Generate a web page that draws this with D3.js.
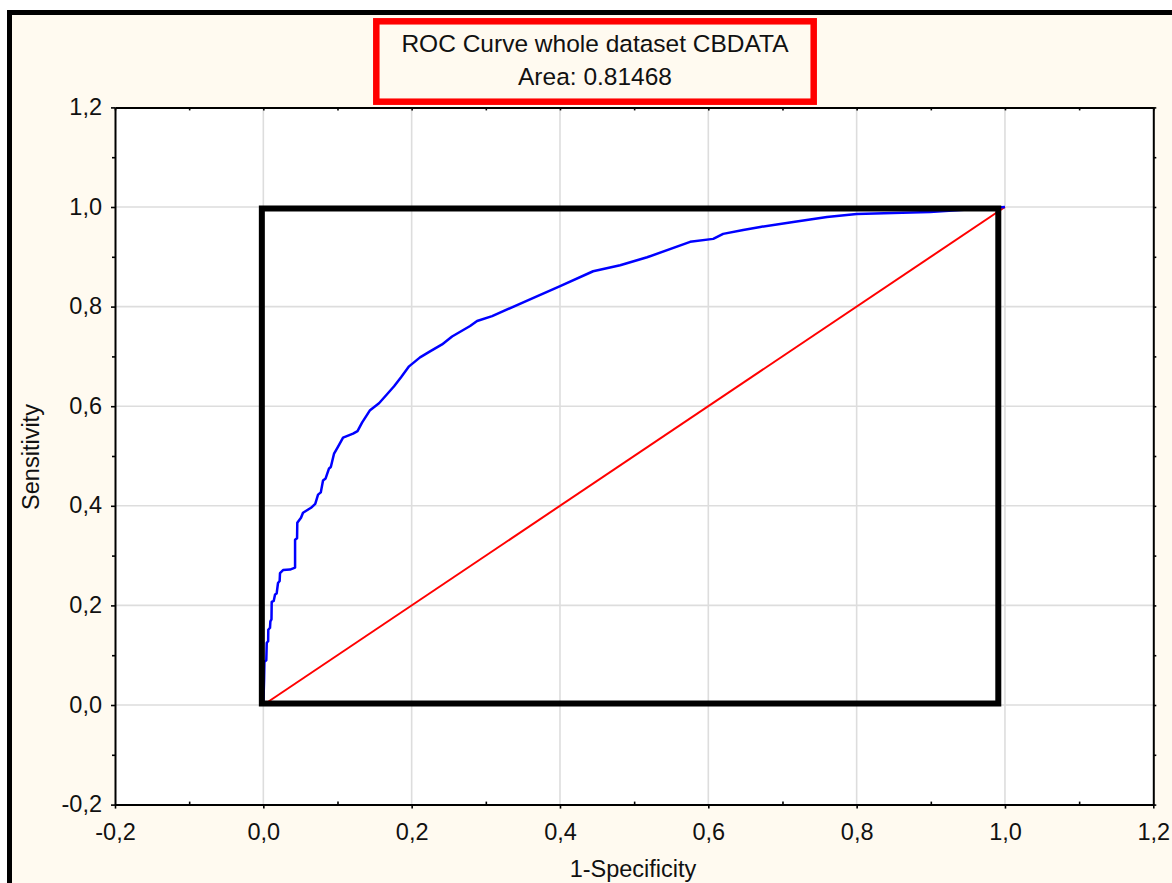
<!DOCTYPE html>
<html>
<head>
<meta charset="utf-8">
<script src="https://cdn.jsdelivr.net/npm/d3@7/dist/d3.min.js"></script>
<style>
  html, body { margin: 0; padding: 0; background: #ffffff; }
  svg { display: block; }
  text { font-family: "Liberation Sans", Arial, sans-serif; fill: #111; }
</style>
</head>
<body>
<svg id="chart" width="1172" height="883"></svg>
<script>
// ---- Data ----
const titleLines = ["ROC Curve whole dataset CBDATA", "Area: 0.81468"];
const xAxisLabel = "1-Specificity";
const yAxisLabel = "Sensitivity";

const majorTicks = [-0.2, 0.0, 0.2, 0.4, 0.6, 0.8, 1.0, 1.2];
const majorTickLabels = ["-0,2", "0,0", "0,2", "0,4", "0,6", "0,8", "1,0", "1,2"];
const minorTicks = [-0.1, 0.1, 0.3, 0.5, 0.7, 0.9, 1.1];

// ROC curve (1-specificity, sensitivity)
const rocFpr = [0, 0.001, 0.0015, 0.004, 0.0046, 0.0065, 0.0067, 0.009, 0.0095, 0.011,
  0.0113, 0.014, 0.0158, 0.018, 0.0198, 0.022, 0.0225, 0.0266, 0.036, 0.0428,
  0.0428, 0.0455, 0.0458, 0.0508, 0.0535, 0.0643, 0.070, 0.0738, 0.0775, 0.0805,
  0.084, 0.0886, 0.091, 0.0954, 0.1008, 0.1075, 0.121, 0.127, 0.1331, 0.1439,
  0.156, 0.1668, 0.1763, 0.1857, 0.1965, 0.2113, 0.2248, 0.241, 0.2545, 0.2788,
  0.2882, 0.3085, 0.3665, 0.4002, 0.4447, 0.4811, 0.5175, 0.5755, 0.6066, 0.620,
  0.647, 0.670, 0.7145, 0.760, 0.800, 0.849, 0.899, 0.950, 1.0];
const rocTpr = [0, 0.05, 0.087, 0.090, 0.125, 0.128, 0.151, 0.155, 0.168, 0.172,
  0.207, 0.209, 0.222, 0.224, 0.245, 0.249, 0.265, 0.271, 0.272, 0.276,
  0.332, 0.335, 0.366, 0.376, 0.386, 0.396, 0.404, 0.4225, 0.427, 0.451,
  0.455, 0.475, 0.478, 0.505, 0.519, 0.537, 0.545, 0.550, 0.567, 0.592,
  0.606, 0.624, 0.640, 0.658, 0.680, 0.698, 0.710, 0.724, 0.740, 0.761,
  0.771, 0.781, 0.819, 0.841, 0.871, 0.883, 0.899, 0.930, 0.936, 0.946,
  0.954, 0.960, 0.970, 0.980, 0.986, 0.988, 0.990, 0.995, 1.0];

// Reference (chance) line
const diagX = [0, 1];
const diagY = [0, 1];

// Highlight box drawn around the unit square (data units)
const boxX = [-0.002, 0.991];
const boxY = [0.003, 0.997];

// ---- Layout ----
const svg = d3.select("#chart");
const W = 1172, H = 883;
const plot = { left: 115, right: 1153.3, top: 107.4, bottom: 804.6 };

const x = d3.scaleLinear().domain([-0.2, 1.2]).range([plot.left, plot.right]);
const y = d3.scaleLinear().domain([-0.2, 1.2]).range([plot.bottom, plot.top]);

// Outer background (cream) and black frame on top/left
svg.append("rect").attr("x", 0).attr("y", 0).attr("width", W).attr("height", H).attr("fill", "#ffffff");
svg.append("rect").attr("x", 12).attr("y", 15).attr("width", W - 12).attr("height", H - 15).attr("fill", "#fffaf0");
svg.append("path")
  .attr("d", `M9.5,${H} L9.5,12.5 L${W},12.5`)
  .attr("fill", "none").attr("stroke", "#000").attr("stroke-width", 5);

// Plot area
svg.append("rect")
  .attr("x", plot.left).attr("y", plot.top)
  .attr("width", plot.right - plot.left).attr("height", plot.bottom - plot.top)
  .attr("fill", "#ffffff");

// Grid
const grid = svg.append("g");
grid.selectAll("line.gx").data(majorTicks.slice(1, -1)).join("line")
  .attr("x1", d => x(d)).attr("x2", d => x(d))
  .attr("y1", plot.top).attr("y2", plot.bottom)
  .attr("stroke", "#dddddd").attr("stroke-width", 1.6);
grid.selectAll("line.gy").data(majorTicks.slice(1, -1)).join("line")
  .attr("class", "gy")
  .attr("y1", d => y(d)).attr("y2", d => y(d))
  .attr("x1", plot.left).attr("x2", plot.right)
  .attr("stroke", "#dddddd").attr("stroke-width", 1.6);

// Diagonal reference line
svg.append("path")
  .datum(diagX.map((d, i) => [d, diagY[i]]))
  .attr("d", d3.line().x(d => x(d[0])).y(d => y(d[1])))
  .attr("fill", "none").attr("stroke", "#ff0000").attr("stroke-width", 2);

// ROC curve
svg.append("path")
  .datum(rocFpr.map((d, i) => [d, rocTpr[i]]))
  .attr("d", d3.line().x(d => x(d[0])).y(d => y(d[1])))
  .attr("fill", "none").attr("stroke", "#0000ff").attr("stroke-width", 2.5)
  .attr("stroke-linejoin", "round");

// Highlight box
svg.append("rect")
  .attr("x", x(boxX[0])).attr("y", y(boxY[1]))
  .attr("width", x(boxX[1]) - x(boxX[0]))
  .attr("height", y(boxY[0]) - y(boxY[1]))
  .attr("fill", "none").attr("stroke", "#000").attr("stroke-width", 6);

// Axes
const fmt = (d) => majorTickLabels[majorTicks.findIndex(t => Math.abs(t - d) < 1e-9)];
const fontSize = 23.5;

function styleAxis(g) {
  g.select(".domain").attr("stroke", "#000").attr("stroke-width", 2);
  g.selectAll(".tick line").attr("stroke", "#000").attr("stroke-width", 1.6);
  g.selectAll(".tick text").attr("font-size", fontSize).attr("fill", "#111")
    .attr("font-family", '"Liberation Sans", Arial, sans-serif');
}

const axB = svg.append("g").attr("transform", `translate(0,${plot.bottom})`)
  .call(d3.axisBottom(x).tickValues(majorTicks).tickFormat(fmt).tickSizeInner(4).tickSizeOuter(0).tickPadding(15));
styleAxis(axB);
axB.selectAll(".tick text").attr("y", 19.2).attr("dy", "0.71em");

const axL = svg.append("g").attr("transform", `translate(${plot.left},0)`)
  .call(d3.axisLeft(y).tickValues(majorTicks).tickFormat(fmt).tickSizeInner(4).tickSizeOuter(0).tickPadding(9));
styleAxis(axL);
axL.selectAll(".tick text").attr("x", -13).attr("dy", "0.3em");

const axT = svg.append("g").attr("transform", `translate(0,${plot.top})`)
  .call(d3.axisTop(x).tickValues(majorTicks).tickFormat("").tickSizeInner(-3).tickSizeOuter(0));
styleAxis(axT);
const axR = svg.append("g").attr("transform", `translate(${plot.right},0)`)
  .call(d3.axisRight(y).tickValues(majorTicks).tickFormat("").tickSizeInner(3).tickSizeOuter(0));
styleAxis(axR);

// Minor ticks
[[d3.axisBottom(x), `translate(0,${plot.bottom})`, -3],
 [d3.axisTop(x), `translate(0,${plot.top})`, -3],
 [d3.axisLeft(y), `translate(${plot.left},0)`, 3],
 [d3.axisRight(y), `translate(${plot.right},0)`, 3]].forEach(([ax, tr, s]) => {
  const g = svg.append("g").attr("transform", tr)
    .call(ax.tickValues(minorTicks).tickFormat("").tickSizeInner(s).tickSizeOuter(0));
  g.select(".domain").remove();
  g.selectAll(".tick line").attr("stroke", "#000").attr("stroke-width", 1.6);
});

// Axis titles
svg.append("text")
  .attr("x", 633).attr("y", 876.5)
  .attr("text-anchor", "middle").attr("font-size", fontSize)
  .text(xAxisLabel);
svg.append("text")
  .attr("transform", "translate(39,457) rotate(-90)")
  .attr("text-anchor", "middle").attr("font-size", fontSize)
  .text(yAxisLabel);

// Title box
svg.append("rect")
  .attr("x", 376.3).attr("y", 21.3).attr("width", 437.4).attr("height", 80.4)
  .attr("fill", "none").attr("stroke", "#ff0000").attr("stroke-width", 6.5);
svg.append("text").attr("x", 595).attr("y", 51.7).attr("text-anchor", "middle")
  .attr("font-size", 24.5).text(titleLines[0]);
svg.append("text").attr("x", 595).attr("y", 85).attr("text-anchor", "middle")
  .attr("font-size", 24.5).text(titleLines[1]);
</script>
</body>
</html>
